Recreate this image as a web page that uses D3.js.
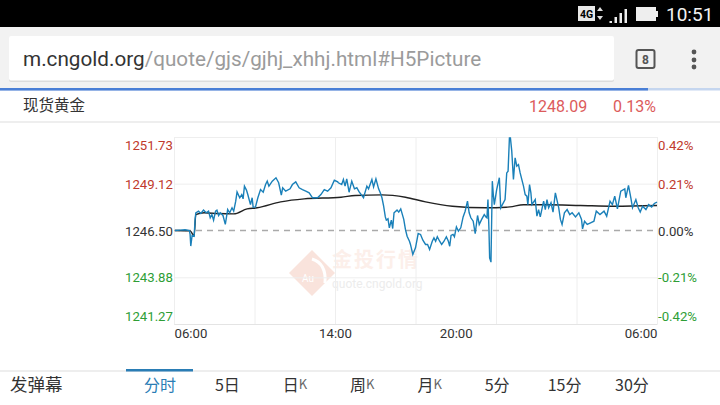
<!DOCTYPE html>
<html>
<head>
<meta charset="utf-8">
<title>现货黄金</title>
<style>
html,body{margin:0;padding:0;background:#fff;overflow:hidden;}
svg{display:block;font-family:Roboto,"Noto Sans CJK SC",sans-serif;}
.cjk{font-family:"Noto Sans CJK SC",sans-serif;}
</style>
</head>
<body>
<svg width="720" height="405"></svg>
<script src="https://cdn.jsdelivr.net/npm/d3@7"></script>
<script>
// minutes after 06:00, prices
var minutes = [3,18,33,46,48,50,54,60,63,65,73,80,88,96,103,108,113,118,124,128,133,138,146,153,160,166,173,178,184,188,196,202,206,210,216,220,228,233,236,243,250,258,266,273,278,283,293,304,312,320,324,333,346,353,363,373,383,393,403,413,428,438,448,458,468,478,488,
	490,500,505,510,515,522,530,538,545,552,565,575,580,590,595,602,610,615,620,625,630,633,638,642,648,652,656,665,670,676,685,690,695,702,705,712,720,728,735,742,750,756,762,770,775,780,785,792,798,805,812,818,822,826,832,836,842,848,855,862,868,875,880,885,892,898,905,910,918,925,930,933,936,939,941,945,949,952,955,962,970,974,
	987,992,996,1000,1003,1007,1012,1017,1022,1027,1032,1042,1047,1052,1055,1060,1064,1067,1077,1082,1087,1092,1102,1107,1112,1117,1124,1130,1137,1147,1152,1157,1164,1172,1180,1187,1197,1207,1215,1218,1224,1232,1242,1252,1259,1270,1282,1290,1300,1307,1314,1322,1332,1344,1347,1355,1362,1367,1377,1384,1390,1397,1407,1415,1424,1432,1440];
var prices = [1246.50,1246.52,1246.54,1246.50,1246.28,1245.63,1246.22,1246.18,1247.12,1247.49,1247.58,1247.45,1247.64,1247.49,1247.58,1247.21,1247.39,1247.08,1247.58,1247.64,1247.34,1247.49,1247.34,1246.84,1247.67,1247.49,1247.77,1247.58,1248.14,1248.66,1248.33,1248.51,1248.27,1248.98,1248.76,1248.51,1247.95,1248.33,1247.80,1247.82,1248.33,1248.79,1248.64,1249.07,1249.26,1248.98,1249.26,1249.45,1249.17,1248.48,1248.89,1248.70,1248.83,1249.07,1249.22,1248.89,1248.79,1248.70,1248.61,1248.33,1248.33,1248.51,1248.79,1248.70,1248.89,1249.31,1249.22,
	1249.17,1249.07,1249.35,1248.98,1249.39,1248.64,1249.26,1248.83,1248.89,1248.66,1248.33,1248.98,1248.83,1249.35,1248.94,1249.39,1248.83,1248.61,1248.33,1247.86,1247.26,1247.08,1247.15,1246.65,1247.08,1246.61,1247.49,1247.64,1247.53,1247.71,1247.12,1246.56,1246.18,1245.90,1245.72,1245.16,1245.53,1246.33,1246.28,1245.96,1245.72,1245.72,1245.44,1245.90,1246.09,1245.90,1246.15,1245.90,1245.72,1245.90,1246.15,1245.90,1245.62,1246.22,1246.28,1246.15,1246.70,1246.46,1246.65,1247.26,1247.58,1248.14,1247.49,1247.21,1247.02,1246.33,1247.34,1246.84,1247.15,1247.39,1247.26,1247.21,1248.23,1246.56,1244.97,1244.73,1249.26,1248.51,1247.95,1248.79,1249.45,1247.77,
	1248.23,1249.72,1249.82,1251.68,1251.68,1250.94,1249.35,1250.56,1250.10,1250.19,1249.72,1248.98,1248.51,1248.42,1247.95,1249.07,1248.61,1247.95,1248.23,1247.30,1247.67,1247.26,1248.14,1247.67,1248.23,1247.77,1248.05,1247.53,1248.61,1247.77,1247.12,1246.84,1247.49,1247.67,1247.39,1247.49,1247.26,1247.49,1247.12,1246.59,1247.02,1246.84,1246.93,1247.02,1247.58,1247.39,1247.58,1247.30,1248.14,1247.95,1248.42,1247.71,1248.70,1248.83,1248.33,1249.02,1248.33,1247.77,1248.23,1247.77,1247.53,1247.86,1247.67,1247.95,1247.82,1248.01,1248.09];
var avgMinutes = [3,48,60,65,90,130,178,218,248,318,388,498,540,620,690,750,830,930,990,1002,1042,1112,1212,1312,1440];
var avgPrices = [1246.50,1246.48,1246.20,1247.39,1247.49,1247.45,1247.43,1247.71,1247.77,1248.10,1248.27,1248.36,1248.46,1248.49,1248.36,1248.10,1247.86,1247.77,1247.80,1247.82,1247.94,1247.94,1247.90,1247.86,1247.90];

var priceTicks = [1241.27,1243.88,1246.50,1249.12,1251.73];
var pctTicks = [-0.42,-0.21,0,0.21,0.42];
var gridMinutes = [0,240,480,720,960,1200,1440];
var timeTicks = [0,480,840,1440];
var timeLabels = ["06:00","14:00","20:00","06:00"];
var tabs = ["分时","5日","日K","周K","月K","5分","15分","30分"];

var svg = d3.select("svg");
var left = 174, right = 657, top_ = 137, bottom = 324;

var x = d3.scaleLinear().domain([0,1440]).range([left,right]);
var y = d3.scaleLinear().domain([1241.27,1251.73]).range([bottom,top_]);
var yPct = d3.scaleLinear().domain([-0.42,0.42]).range([bottom,top_]);

function tickColor(v){ return v > 0 ? "#c0392b" : (v < 0 ? "#2e9e36" : "#333"); }
// first and last labels sit inside the plot edge
function edgeShift(i){ return i === 0 ? -8 : (i === 4 ? 7.5 : 0); }

// browser chrome
svg.append("rect").attr("width",720).attr("height",27).attr("fill","#000");
svg.append("rect").attr("y",27).attr("width",720).attr("height",61).attr("fill","#f2f2f2");
svg.append("rect").attr("x",9).attr("y",37).attr("width",605).attr("height",45).attr("rx",2).attr("fill","#ddd");
svg.append("rect").attr("x",9).attr("y",36).attr("width",605).attr("height",44.5).attr("rx",2).attr("fill","#fff");
var url = svg.append("text").attr("x",23).attr("y",66).attr("font-size",20.7).attr("fill","#9b9b9b");
url.append("tspan").attr("fill","#333").text("m.cngold.org");
url.append("tspan").text("/quote/gjs/gjhj_xhhj.html#H5Picture");
svg.append("rect").attr("x",636.5).attr("y",50).attr("width",18).attr("height",18).attr("rx",2)
	.attr("fill","none").attr("stroke","#555").attr("stroke-width",2);
svg.append("text").attr("x",645.5).attr("y",63.5).attr("text-anchor","middle").attr("font-size",12).attr("font-weight",700).attr("fill","#555").text("8");
svg.selectAll("circle.dot").data([52,60,67]).enter().append("circle").attr("class","dot")
	.attr("cx",694).attr("cy",function(d){return d;}).attr("r",2.4).attr("fill","#555");
svg.append("rect").attr("y",88).attr("width",720).attr("height",2.5).attr("fill","#c5d6ef");
svg.append("rect").attr("y",88).attr("width",648).attr("height",2.5).attr("fill","#4a7fd6");

// status bar
svg.append("rect").attr("x",578).attr("y",6).attr("width",17).attr("height",15).attr("fill","#e8e8e8");
svg.append("text").attr("x",586.5).attr("y",18).attr("text-anchor","middle").attr("font-size",10.5).attr("font-weight",700).attr("fill","#000").text("4G");
svg.append("path").attr("d","M597 11l3-4 3 4zM597 16l3 4 3-4z").attr("fill","#ddd");
svg.selectAll("rect.sig").data([[610,19,3],[615,15,7],[620,11,11],[625,7,15]]).enter().append("rect").attr("class","sig")
	.attr("x",function(d){return d[0]-.5;}).attr("y",function(d){return d[1]+2;})
	.attr("width",2.5).attr("height",function(d){return d[2]-1;}).attr("fill","#eee");
svg.append("rect").attr("x",636).attr("y",7).attr("width",20).attr("height",14).attr("fill","#eee");
svg.append("rect").attr("x",656).attr("y",11).attr("width",2).attr("height",6).attr("fill","#eee");
svg.append("text").attr("x",666).attr("y",21).attr("font-size",19).attr("fill","#f2f2f2").text("10:51");

// quote header
svg.append("text").attr("class","cjk").attr("x",23).attr("y",111).attr("font-size",15.5).attr("fill","#333").text("现货黄金");
svg.append("text").attr("x",529).attr("y",112).attr("font-size",16).attr("fill","#dc5b5b").text("1248.09");
svg.append("text").attr("x",613).attr("y",112).attr("font-size",16).attr("fill","#dc5b5b").text("0.13%");
svg.append("rect").attr("y",121).attr("width",720).attr("height",2).attr("fill","#eee");

// watermark
var wm = svg.append("g");
wm.append("path").attr("d","M312 250L335 273L312 296L289 273Z").attr("fill","#f9e3dc");
wm.append("path").attr("d","M312 259C322 262 326 270 325 283").attr("fill","none").attr("stroke","#fff").attr("stroke-width",3);
wm.append("text").attr("x",308).attr("y",282).attr("text-anchor","middle").attr("font-size",10).attr("fill","#fff").text("Au");
wm.append("text").attr("class","cjk").attr("x",332).attr("y",267).attr("font-size",20).attr("font-weight",700).attr("letter-spacing","2px").attr("fill","#fcefea").text("金投行情");
wm.append("text").attr("x",332).attr("y",288).attr("font-size",12).attr("fill","#ececec").text("quote.cngold.org");

// grid and axes
var gridX = svg.append("g").attr("transform","translate(0,"+bottom+")")
	.call(d3.axisBottom(x).tickValues(gridMinutes).tickSize(-(bottom-top_)).tickFormat(""));
gridX.select(".domain").remove();
gridX.selectAll("line").attr("stroke","#eee");

var axisY = svg.append("g").attr("transform","translate("+left+",0)")
	.call(d3.axisLeft(y).tickValues(priceTicks).tickSize(-(right-left)).tickFormat(d3.format(".2f")));
axisY.select(".domain").remove();
axisY.selectAll("line").attr("stroke",function(d){return d === 1246.50 ? "none" : "#eee";});
axisY.selectAll("text").attr("x",-49).attr("text-anchor","start")
	.attr("dy",function(d,i){return (edgeShift(i)+4.5)+"px";})
	.attr("font-family","Roboto").attr("font-size",13.2).attr("fill",function(d){return tickColor(d-1246.50);});

var axisR = svg.append("g").attr("transform","translate("+right+",0)")
	.call(d3.axisRight(yPct).tickValues(pctTicks).tickSize(0).tickPadding(1).tickFormat(function(d){return d.toFixed(2)+"%";}));
axisR.select(".domain").remove();
axisR.selectAll("text").attr("font-family","Roboto").attr("font-size",13.2).attr("fill",tickColor)
	.attr("dy",function(d,i){return (edgeShift(i)+4.5)+"px";});

svg.append("line").attr("x1",left).attr("x2",right).attr("y1",y(1246.50)).attr("y2",y(1246.50))
	.attr("stroke","#aaa").attr("stroke-width",1.3).attr("stroke-dasharray","6,5");

var axisX = svg.append("g").attr("transform","translate(0,"+bottom+")")
	.call(d3.axisBottom(x).tickValues(timeTicks).tickSize(0).tickPadding(5)
		.tickFormat(function(d,i){return timeLabels[i];}));
axisX.select(".domain").attr("stroke","#e4e4e4");
axisX.selectAll("text").attr("font-family","Roboto").attr("font-size",13.2).attr("fill","#333")
	.attr("text-anchor",function(d){return d === 0 ? "start" : (d === 1440 ? "end" : "middle");});

// series
var line = d3.line()
	.x(function(d){return x(d[0]);})
	.y(function(d){return y(d[1]);});

svg.append("path").attr("d",line.curve(d3.curveMonotoneX)(d3.zip(avgMinutes,avgPrices)))
	.attr("fill","none").attr("stroke","#222").attr("stroke-width",1.4);
svg.append("path").attr("d",line.curve(d3.curveLinear)(d3.zip(minutes,prices)))
	.attr("fill","none").attr("stroke","#1a80b9").attr("stroke-width",1.4);

// bottom tabs
svg.append("rect").attr("y",370.5).attr("width",720).attr("height",1).attr("fill","#ddd");
svg.append("rect").attr("x",126).attr("y",369).attr("width",67).attr("height",2.5).attr("fill","#2a7db5");
svg.append("text").attr("class","cjk").attr("x",10).attr("y",391).attr("font-size",17.5).attr("fill","#333").text("发弹幕");

var tabX = d3.scalePoint().domain(tabs).range([160,632]);
var tabText = svg.selectAll("text.tab").data(tabs).enter().append("text").attr("class","tab cjk")
	.attr("x",function(d){return tabX(d);}).attr("y",391).attr("text-anchor","middle")
	.attr("font-size",16).attr("fill",function(d,i){return i === 0 ? "#2a7db5" : "#333";});
tabText.append("tspan").text(function(d){return d.replace("K","");});
tabText.filter(function(d){return d.indexOf("K") > -1;}).append("tspan")
	.attr("font-size",13).attr("dy",-2).attr("fill","#666").text("K");
</script>
</body>
</html>
